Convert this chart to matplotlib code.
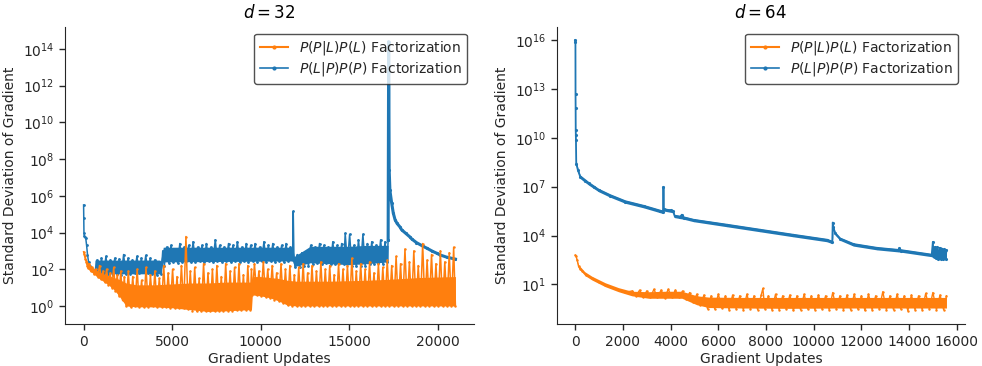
import numpy as np
import matplotlib
matplotlib.use("Agg")
import matplotlib.pyplot as plt
from matplotlib.lines import Line2D
from matplotlib.ticker import NullLocator

# ---------------- data (y given as log10 of the standard deviation) ----------------
titles = ["$d = 32$", "$d = 64$"]
series_labels = ["$P(P|L)P(L)$ Factorization", "$P(L|P)P(P)$ Factorization"]
x_label = "Gradient Updates"
y_label = "Standard Deviation of Gradient"

left_xticks = [0, 5000, 10000, 15000, 20000]
left_yticks_log10 = [0, 2, 4, 6, 8, 10, 12, 14]
right_xticks = [0, 2000, 4000, 6000, 8000, 10000, 12000, 14000, 16000]
right_yticks_log10 = [1, 4, 7, 10, 13, 16]

# d = 32, P(P|L)P(L) (orange): sampled trace (x, log10 y)
d32_plpl = [(0, 2.95), (30, 2.85), (60, 2.7), (100, 2.55), (150, 2.4), (200, 2.2), (260, 2.05), (330, 2.3),
            (400, 1.9), (500, 2.1), (600, 1.72), (700, 2.0), (800, 1.6), (900, 2.2), (1000, 1.45), (1100, 1.9),
            (1200, 1.3), (1300, 2.0), (1400, 1.15), (1500, 1.8), (1600, 1.0), (1700, 2.1), (1800, 0.8),
            (1900, 1.7), (2000, 0.55), (2100, 1.9), (2200, 0.3), (2300, 1.6), (2400, 0.0),
            (2525, 1.9), (2650, -0.05), (2775, 1.6), (2900, 0.0), (3025, 2.0), (3150, -0.05), (3275, 1.4),
            (3400, -0.05), (3525, 2.1), (3650, -0.05), (3775, 1.7), (3900, 0.0), (4025, 1.9), (4150, -0.05),
            (4275, 1.5), (4400, -0.05), (4525, 2.2), (4650, -0.05), (4775, 1.8), (4900, -0.1), (5025, 2.0),
            (5150, -0.1), (5275, 1.6), (5400, -0.1), (5525, 2.2), (5650, -0.1), (5780, 3.78), (5900, -0.15),
            (6025, 1.9), (6150, -0.25), (6275, 2.1), (6400, -0.3), (6525, 1.5), (6650, -0.3), (6775, 2.3),
            (6900, -0.28), (7025, 1.8), (7150, -0.3), (7275, 2.0), (7400, -0.28), (7525, 2.2), (7650, -0.25),
            (7775, 1.6), (7900, -0.25), (8025, 2.3), (8150, -0.25), (8275, 1.9), (8400, -0.25), (8525, 2.1),
            (8650, -0.22), (8775, 2.3), (8900, -0.22), (9025, 1.7), (9150, -0.2), (9275, 2.2), (9400, -0.2),
            (9480, 2.0),
            (9530, 0.6), (9650, 2.3), (9775, 0.58), (9900, 1.9), (10025, 0.55), (10150, 2.4), (10275, 0.5),
            (10400, 2.0), (10525, 0.45), (10650, 2.2), (10775, 0.35), (10900, 1.8), (11025, 0.28), (11150, 2.3),
            (11275, 0.15), (11400, 2.0), (11525, 0.05), (11650, 2.2), (11775, 0.0), (11900, 1.7), (12025, 0.0),
            (12150, 2.1), (12275, 0.0), (12400, 2.3), (12525, 0.0), (12650, 1.8), (12775, 0.0), (12900, 2.2),
            (13025, 0.0), (13150, 1.9), (13275, 0.0), (13400, 2.4), (13525, 0.0), (13650, 2.0), (13775, 0.0),
            (13900, 2.2), (14025, 0.0), (14150, 1.7), (14275, 0.0), (14400, 2.3), (14525, 0.0), (14650, 2.0),
            (14775, 0.0), (14900, 2.2), (15025, 0.0), (15150, 2.6), (15275, 0.0), (15400, 1.9), (15525, 0.0),
            (15650, 2.3), (15775, 0.0), (15900, 2.0), (16025, 0.0), (16150, 2.4), (16275, 0.0), (16400, 1.8),
            (16525, 0.0), (16650, 2.3), (16775, 0.0), (16900, 2.1), (17025, 0.0), (17150, 2.5),
            (17275, 0.0), (17400, 2.2), (17525, 0.0), (17650, 2.7), (17775, 0.0), (17900, 2.3), (18025, 0.0),
            (18150, 3.1), (18275, 0.0), (18400, 2.4), (18525, 0.0), (18650, 3.0), (18775, 0.0), (18900, 2.2),
            (19025, 0.0), (19150, 3.4), (19275, 0.0), (19400, 2.5), (19525, 0.0), (19650, 2.8), (19775, 0.0),
            (19900, 2.3), (20025, 0.0), (20150, 3.0), (20275, 0.0), (20400, 2.4), (20525, 0.0), (20650, 2.9),
            (20775, 0.0), (20900, 3.2), (21000, 0.0)]
# dense core of that trace: (x, low, high)
d32_plpl_core = [(0, 2.9, 3.0), (100, 2.5, 2.65), (260, 2.0, 2.35), (500, 1.8, 2.1), (800, 1.55, 1.9),
                 (1100, 1.35, 1.75), (1400, 1.15, 1.65), (1700, 0.9, 1.55), (2000, 0.55, 1.45), (2400, 0.0, 1.25),
                 (3000, -0.05, 1.15), (4000, -0.05, 1.15), (5000, -0.1, 1.2), (6000, -0.2, 1.25),
                 (7000, -0.3, 1.25), (8000, -0.27, 1.3), (9000, -0.22, 1.3), (9480, -0.2, 1.3),
                 (9530, 0.6, 1.6), (10000, 0.55, 1.6), (10500, 0.45, 1.55), (11000, 0.28, 1.5),
                 (11500, 0.05, 1.4), (12000, 0.0, 1.35), (14000, 0.0, 1.35), (16000, 0.0, 1.4),
                 (17200, 0.0, 1.45), (19000, 0.0, 1.55), (21000, 0.0, 1.6)]

# d = 32, P(L|P)P(P) (blue): noisy part, then the burst at ~17200 and its decay
d32_lppp = [(0, 5.5), (10, 4.8), (20, 4.0), (40, 3.8), (80, 3.75), (120, 3.7), (170, 3.3), (220, 2.8),
            (280, 2.4), (350, 2.15), (450, 2.0), (550, 1.9), (640, 1.87),
            (760, 2.5), (885, 1.75), (1010, 2.6), (1135, 1.7), (1260, 2.7), (1385, 1.72), (1510, 2.5),
            (1635, 1.7), (1760, 2.6), (1885, 1.75), (2010, 2.55), (2135, 1.7), (2260, 2.8), (2385, 1.72),
            (2510, 2.6), (2635, 1.75), (2760, 2.5), (2885, 1.8), (3010, 2.7), (3135, 1.8), (3260, 2.6),
            (3385, 1.85), (3510, 2.75), (3635, 1.8), (3760, 2.6), (3885, 1.75), (4010, 2.5), (4135, 1.7),
            (4260, 2.4), (4385, 1.75), (4470, 3.0), (4560, 2.2),
            (4685, 3.2), (4810, 2.35), (4935, 3.3), (5060, 2.4), (5185, 3.1), (5310, 2.35), (5435, 3.4),
            (5560, 2.4), (5685, 3.2), (5810, 2.45), (5935, 3.3), (6060, 2.4), (6185, 3.5), (6310, 2.4),
            (6435, 3.2), (6560, 2.45), (6685, 3.3), (6810, 2.4), (6935, 3.4), (7060, 2.45), (7185, 3.2),
            (7310, 2.4), (7435, 3.6), (7560, 2.45), (7685, 3.3), (7810, 2.4), (7935, 3.2), (8060, 2.45),
            (8185, 3.4), (8310, 2.4), (8435, 3.3), (8560, 2.45), (8685, 3.5), (8810, 2.4), (8935, 3.2),
            (9060, 2.45), (9185, 3.4), (9310, 2.4), (9435, 3.3), (9560, 2.45), (9685, 3.4), (9810, 2.4),
            (9935, 3.2), (10060, 2.45), (10185, 3.5), (10310, 2.4), (10435, 3.3), (10560, 2.45), (10685, 3.4),
            (10810, 2.4), (10935, 3.2), (11060, 2.45), (11185, 3.3), (11310, 2.4), (11435, 3.4), (11560, 2.45),
            (11685, 3.2), (11800, 2.5), (11840, 5.15), (11880, 2.6),
            (11950, 2.1), (12075, 2.8), (12200, 2.1), (12325, 2.9), (12450, 2.15), (12575, 2.8), (12700, 2.2),
            (12825, 3.3), (12950, 2.3), (13075, 3.2), (13200, 2.35), (13325, 3.4), (13450, 2.3), (13575, 3.3),
            (13700, 2.35), (13825, 3.2), (13950, 2.3), (14075, 3.5), (14200, 2.3), (14325, 3.3), (14450, 2.35),
            (14575, 3.4), (14700, 2.3), (14775, 3.95), (14900, 2.3), (15025, 3.9), (15150, 2.15), (15275, 3.3),
            (15400, 2.15), (15525, 3.6), (15650, 2.2), (15775, 3.9), (15900, 2.2), (16025, 3.4), (16150, 2.3),
            (16275, 3.5), (16400, 2.3), (16525, 3.3), (16650, 2.35), (16775, 3.6), (16900, 2.3), (17025, 3.5),
            (17150, 2.4), (17200, 3.6)]
d32_lppp_tail = [(17200, 3.6), (17230, 14.4), (17260, 7.4), (17300, 6.3), (17400, 5.6), (17490, 5.06),
                 (17590, 4.7), (17700, 4.5), (17870, 4.3), (17960, 4.15), (18200, 3.95), (18440, 3.75),
                 (18530, 3.65), (18800, 3.45), (19190, 3.24), (19380, 3.15), (19700, 2.98), (19950, 2.87),
                 (20130, 2.78), (20500, 2.66), (21000, 2.55)]
d32_lppp_core = [(640, 1.75, 2.5), (4300, 1.75, 2.5), (4350, 1.8, 2.45), (4500, 2.4, 3.2),
                 (11800, 2.45, 3.2), (11900, 2.15, 2.7), (12800, 2.35, 3.25), (15000, 2.25, 3.25),
                 (16000, 2.3, 3.3), (17200, 2.4, 3.3)]

# d = 64, P(P|L)P(L) (orange)
d64_plpl = [(0, 2.8), (30, 2.75), (80, 2.5), (140, 2.1), (200, 1.95), (300, 1.8), (450, 1.6), (700, 1.37),
            (1000, 1.15), (1258, 0.96), (1500, 0.82), (1815, 0.65), (2100, 0.52),
            (2400, 0.6), (2550, 0.3), (2700, 0.65), (2850, 0.2), (3000, 0.6), (3150, 0.2), (3300, 0.7),
            (3450, 0.2), (3600, 0.65), (3750, 0.18), (3900, 0.7), (4050, 0.22), (4200, 0.65), (4350, 0.2),
            (4500, 0.6), (4650, 0.1), (4800, 0.5), (4950, -0.1), (5100, 0.4), (5250, -0.25), (5400, 0.35),
            (5550, -0.5), (5700, 0.3), (5850, -0.5), (6000, 0.4), (6150, -0.45), (6300, 0.3), (6450, -0.55),
            (6600, 0.35), (6750, -0.5), (6900, 0.3), (7050, -0.55), (7200, 0.4), (7350, -0.5), (7500, 0.3),
            (7650, -0.55), (7800, 0.35), (7870, 0.75), (7950, -0.5), (8100, 0.3), (8250, -0.55), (8400, 0.4),
            (8550, -0.55), (8700, 0.3), (8850, -0.5), (9000, 0.35), (9150, -0.6), (9300, 0.3), (9450, -0.55),
            (9600, 0.4), (9750, -0.5), (9900, 0.3), (10050, -0.55), (10200, 0.35), (10350, -0.5), (10500, 0.3),
            (10650, -0.55), (10800, 0.5), (10950, -0.5), (11100, 0.3), (11250, -0.55), (11400, 0.35),
            (11550, -0.55), (11700, 0.4), (11850, -0.5), (12000, 0.3), (12150, -0.6), (12300, 0.4),
            (12450, -0.55), (12600, 0.3), (12750, -0.5), (12900, 0.55), (13050, -0.55), (13200, 0.3),
            (13350, -0.55), (13500, 0.4), (13650, -0.5), (13800, 0.3), (13950, -0.62), (14100, 0.35),
            (14250, -0.55), (14400, 0.3), (14550, -0.55), (14700, 0.45), (14850, -0.5), (15000, 0.5),
            (15150, -0.55), (15300, 0.35), (15450, -0.55), (15570, 0.3)]
d64_plpl_core = [(0, 2.7, 2.85), (140, 2.0, 2.2), (400, 1.55, 1.78), (700, 1.27, 1.5), (1258, 0.86, 1.1),
                 (1815, 0.55, 0.8), (2376, 0.3, 0.58), (3073, 0.15, 0.55), (3771, 0.15, 0.58),
                 (4472, 0.15, 0.58), (5100, -0.25, 0.3), (5600, -0.42, 0.22), (7000, -0.45, 0.2),
                 (9000, -0.47, 0.2), (11000, -0.45, 0.2), (13000, -0.45, 0.2), (15570, -0.45, 0.2)]

# d = 64, P(L|P)P(P) (blue)
d64_lppp = [(0, 16.0), (8, 15.9), (12, 12.7), (16, 11.86), (20, 10.47), (25, 10.16), (30, 9.85), (42, 8.42),
            (112, 8.01), (210, 7.6), (400, 7.35), (559, 7.2), (768, 7.0), (978, 6.79), (1467, 6.45),
            (2096, 6.08), (2865, 5.8), (3563, 5.5), (3680, 5.45), (3700, 6.99), (3720, 5.6), (4000, 5.55),
            (4100, 5.5), (4170, 5.2), (4400, 5.15), (4470, 5.28), (4550, 5.1), (4960, 4.95), (6358, 4.64),
            (7755, 4.33), (9153, 4.02), (10550, 3.72), (10780, 3.6), (10800, 4.8), (10830, 4.5), (10900, 4.13),
            (11110, 3.8), (11670, 3.45), (12650, 3.22), (13550, 3.1), (13600, 3.22), (13650, 3.08),
            (14950, 2.8), (15000, 3.61), (15030, 2.75), (15080, 3.3), (15130, 2.6), (15180, 3.28),
            (15230, 2.58), (15280, 3.25), (15330, 2.57), (15380, 3.2), (15430, 2.55), (15480, 3.15),
            (15530, 2.55), (15570, 3.1)]
d64_lppp_core = [(30, 9.7, 10.1), (42, 8.3, 8.6), (112, 7.9, 8.15), (210, 7.5, 7.72), (559, 7.1, 7.32),
                 (978, 6.69, 6.9), (1467, 6.35, 6.56), (2096, 5.98, 6.19), (2865, 5.7, 5.91),
                 (3680, 5.35, 5.56), (3720, 5.5, 5.7), (4100, 5.4, 5.6), (4170, 5.1, 5.3), (4550, 5.0, 5.2),
                 (4960, 4.85, 5.05), (6358, 4.54, 4.75), (7755, 4.23, 4.44), (9153, 3.92, 4.13),
                 (10550, 3.62, 3.83), (10780, 3.5, 3.71), (10830, 4.3, 4.6), (10900, 4.03, 4.24),
                 (11110, 3.7, 3.9), (11670, 3.35, 3.56), (12650, 3.12, 3.33), (13650, 2.98, 3.19),
                 (14950, 2.7, 2.91), (15030, 2.6, 3.2), (15570, 2.5, 3.1)]

# ---------------- style ----------------
ORANGE = "#ff7f0e"
BLUE = "#1f77b4"
INK = "0.15"
plt.rcParams.update({
    "font.family": ["DejaVu Sans"],
    "font.size": 10,
    "axes.edgecolor": INK,
    "axes.labelcolor": INK,
    "xtick.color": INK,
    "ytick.color": INK,
    "text.color": INK,
    "mathtext.fontset": "dejavusans",
})

fig = plt.figure(figsize=(9.82, 3.66), dpi=100)
ax1 = fig.add_axes([0.0662, 0.1139, 0.4165, 0.8131])
ax2 = fig.add_axes([0.5669, 0.1139, 0.4158, 0.8131])


def unpack(pairs):
    a = np.array(pairs, dtype=float)
    return a[:, 0], 10.0 ** a[:, 1]


def unpack_core(triples):
    a = np.array(triples, dtype=float)
    return a[:, 0], 10.0 ** a[:, 1], 10.0 ** a[:, 2]


def draw_trace(ax, pairs, color, lw=1.0, ms=2.0, z=2):
    x, y = unpack(pairs)
    ax.plot(x, y, color=color, lw=lw, marker=".", ms=ms, zorder=z)


def draw_core(ax, triples, color, z=2):
    x, lo, hi = unpack_core(triples)
    ax.fill_between(x, lo, hi, color=color, lw=0, zorder=z)


# left panel
draw_core(ax1, d32_lppp_core, BLUE, z=2)
draw_trace(ax1, d32_lppp, BLUE, lw=1.1, ms=2.0, z=2)
draw_trace(ax1, d32_lppp_tail, BLUE, lw=2.2, ms=2.5, z=2)
draw_core(ax1, d32_plpl_core, ORANGE, z=3)
draw_trace(ax1, d32_plpl, ORANGE, lw=1.1, ms=1.5, z=3)

# right panel
draw_core(ax2, d64_lppp_core, BLUE, z=2)
draw_trace(ax2, d64_lppp, BLUE, lw=1.3, ms=2.5, z=2)
draw_core(ax2, d64_plpl_core, ORANGE, z=3)
draw_trace(ax2, d64_plpl, ORANGE, lw=1.0, ms=1.5, z=3)

panels = [
    (ax1, titles[0], left_xticks, left_yticks_log10, (-1050, 22050), (-1.0, 15.21)),
    (ax2, titles[1], right_xticks, right_yticks_log10, (-778, 16348), (-1.45, 16.82)),
]
for ax, title, xt, ytl, xl, yl in panels:
    ax.set_yscale("log")
    ax.set_xlim(*xl)
    ax.set_ylim(10.0 ** yl[0], 10.0 ** yl[1])
    ax.set_xticks(xt)
    ax.set_yticks([10.0 ** v for v in ytl])
    ax.yaxis.set_minor_locator(NullLocator())
    ax.set_title(title, fontsize=12, color="black")
    ax.set_xlabel(x_label, labelpad=2)
    ax.set_ylabel(y_label)
    ax.spines["top"].set_visible(False)
    ax.spines["right"].set_visible(False)
    ax.tick_params(length=4, width=1)
    handles = [Line2D([], [], color=ORANGE, lw=1.5, marker=".", ms=4),
               Line2D([], [], color=BLUE, lw=1.2, marker=".", ms=4)]
    leg = ax.legend(handles, series_labels, loc="upper right", framealpha=0.8,
                    edgecolor=INK, fontsize=10, labelspacing=0.2)
    leg.set_zorder(10)

fig.savefig("out.png", dpi=100)
